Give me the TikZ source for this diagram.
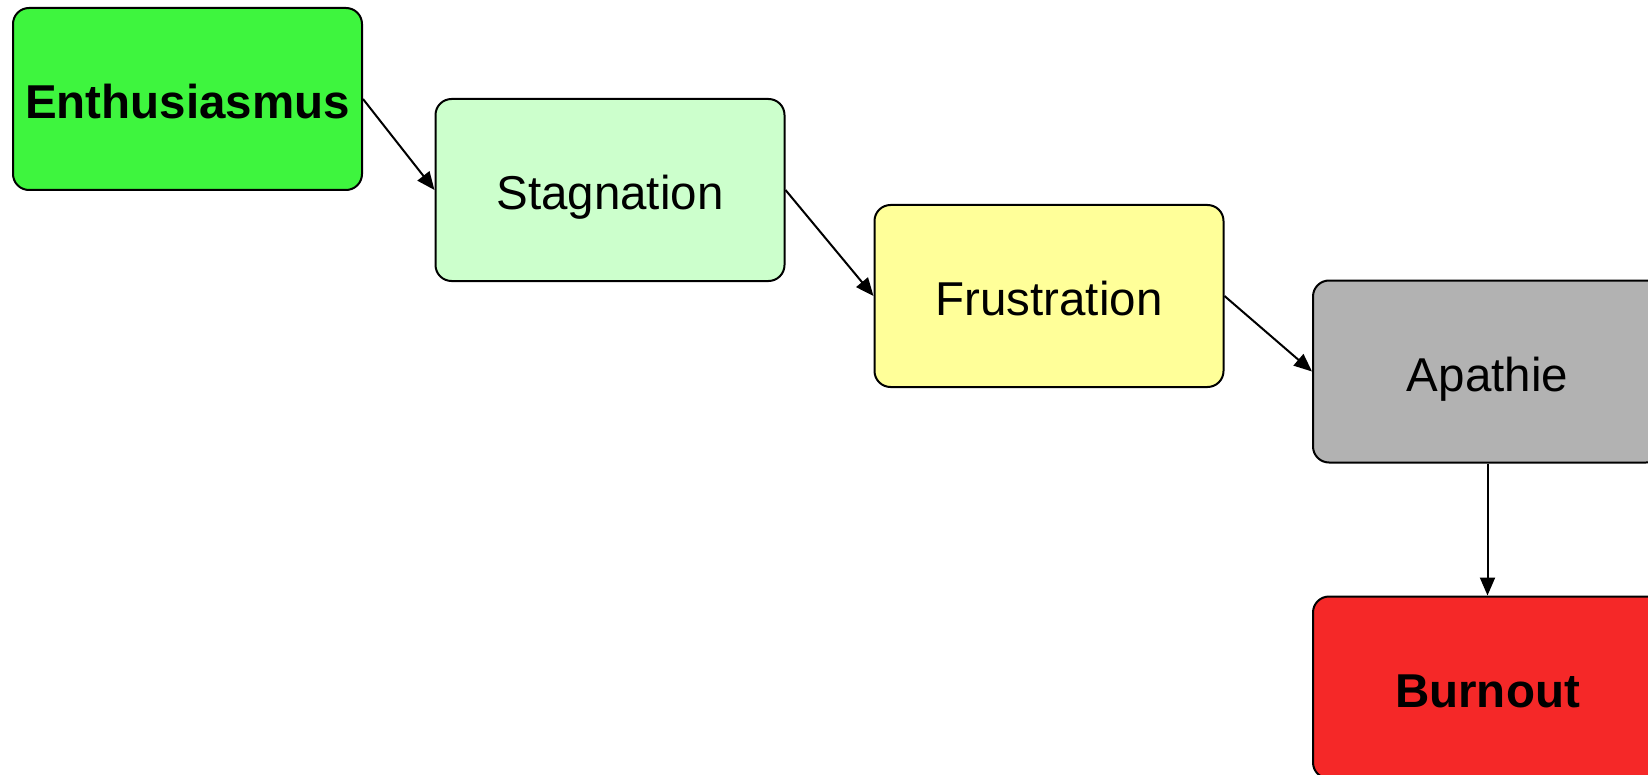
\documentclass[tikz,border=0pt]{standalone}
\usepackage{fontspec}
\setmainfont{Liberation Sans}
\usetikzlibrary{arrows.meta}
\definecolor{cEnth}{HTML}{3EF53E}
\definecolor{cStag}{HTML}{CCFFCC}
\definecolor{cFrus}{HTML}{FFFF99}
\definecolor{cApa}{HTML}{B2B2B2}
\definecolor{cBurn}{HTML}{F52828}
\tikzset{
  stagebox/.style={draw=black, line width=1pt, rounded corners=8pt,
    minimum width=174.5pt, minimum height=91pt, inner sep=0pt,
    text height=19.5pt, text depth=0pt,
    font=\fontsize{23.75pt}{28pt}\selectfont},
  flow/.style={line width=1pt, -{Triangle[length=9pt,width=7.5pt]}}
}
\begin{document}
\begin{tikzpicture}[x=0.5pt,y=-0.5pt]
\useasboundingbox (0,0) rectangle (1648,775);
\clip (0,0) rectangle (1648,775);
\node[stagebox, fill=cEnth, font=\fontsize{23.75pt}{28pt}\selectfont\bfseries] (enth) at (187.5,99) {Enthusiasmus};
\node[stagebox, fill=cStag] (stag) at (610,190) {Stagnation};
\node[stagebox, fill=cFrus] (frus) at (1049,296) {Frustration};
\node[stagebox, fill=cApa] (apa) at (1487.5,371.5) {Apathie};
\node[stagebox, fill=cBurn, font=\fontsize{23.75pt}{28pt}\selectfont\bfseries] (burn) at (1487.5,687.5) {Burnout};
\draw[flow] (enth.east) -- (stag.west);
\draw[flow] (stag.east) -- (frus.west);
\draw[flow] (frus.east) -- (apa.west);
\draw[flow] (apa.south) -- (burn.north);
\end{tikzpicture}
\end{document}
